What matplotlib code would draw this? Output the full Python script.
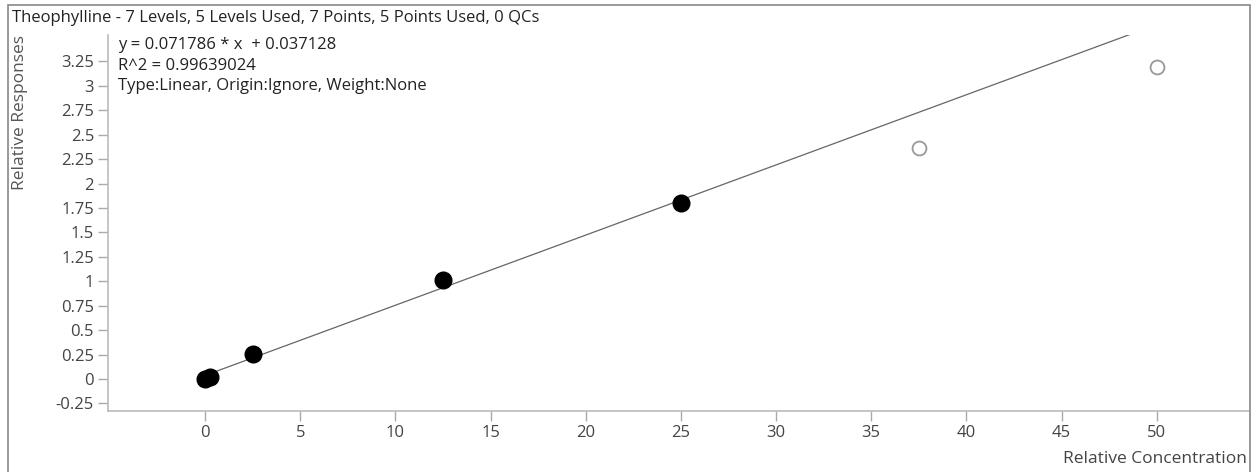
import numpy as np
import matplotlib.pyplot as plt
from matplotlib.patches import Rectangle

plt.rcParams['font.family'] = ['Open Sans', 'DejaVu Sans']

# calibration points: used levels (filled) and excluded levels (open)
used_conc = [0.0, 0.25, 2.5, 12.5, 25.0]
used_resp = [0.0, 0.02, 0.255, 1.01, 1.80]
excl_conc = [37.5, 50.0]
excl_resp = [2.36, 3.19]

slope = 0.071786
intercept = 0.037128
r2 = 0.99639024

y_ticks = [-0.25, 0, 0.25, 0.5, 0.75, 1, 1.25, 1.5, 1.75, 2, 2.25, 2.5, 2.75, 3, 3.25]
y_ticklabels = ['-0.25', '0', '0.25', '0.5', '0.75', '1', '1.25', '1.5', '1.75',
                '2', '2.25', '2.5', '2.75', '3', '3.25']
x_ticks = [0, 5, 10, 15, 20, 25, 30, 35, 40, 45, 50]

W, H = 1253, 472
fig = plt.figure(figsize=(W / 100, H / 100), dpi=100)

# outer frame
fig.patches.append(Rectangle((8 / W, -0.05), 1242 / W, 1.05 - 5 / H,
                             transform=fig.transFigure, fill=False,
                             edgecolor='#888888', linewidth=1.2, clip_on=False))

ax = fig.add_axes([108 / W, 61 / H, 1141 / W, 376 / H])
ax.set_xlim(-5.1, 54.85)
ax.set_ylim(-0.327, 3.52)

for s in ['top', 'right']:
    ax.spines[s].set_visible(False)
for s in ['left', 'bottom']:
    ax.spines[s].set_color('#bbbbbb')
    ax.spines[s].set_linewidth(1.2)

ax.set_xticks(x_ticks)
ax.set_xticklabels([str(t) for t in x_ticks])
ax.set_yticks(y_ticks)
ax.set_yticklabels(y_ticklabels)
ax.tick_params(axis='both', colors='#aaaaaa', labelcolor='#444444',
               labelsize=12, length=7, width=1)
ax.tick_params(axis='x', pad=3)
ax.tick_params(axis='y', pad=3)

# regression line
xs = np.array([0.0, 55.0])
ax.plot(xs, slope * xs + intercept, color='#666666', linewidth=0.9, zorder=2)

ax.plot(used_conc, used_resp, 'o', color='black', markersize=12, zorder=3)
ax.plot(excl_conc, excl_resp, 'o', markerfacecolor='white', markeredgecolor='#999999',
        markeredgewidth=1.3, markersize=10, zorder=3)

fig.text(12 / W, 1 - 18 / H,
         'Theophylline - 7 Levels, 5 Levels Used, 7 Points, 5 Points Used, 0 QCs',
         fontsize=12, color='#222222', va='center', ha='left')

eq_lines = [f'y = {slope:.6f} * x  + {intercept:.6f}',
            f'R^2 = {r2:.8f}',
            'Type:Linear, Origin:Ignore, Weight:None']
for i, line in enumerate(eq_lines):
    fig.text(118 / W, 1 - (45 + 20.5 * i) / H, line, fontsize=12,
             color='#222222', va='center', ha='left')

fig.text(20 / W, 1 - 35 / H, 'Relative Responses', rotation=90, fontsize=12.5,
         color='#555555', va='top', ha='center')
fig.text(1247 / W, 1 - 459 / H, 'Relative Concentration', fontsize=12.5,
         color='#444444', va='center', ha='right')

fig.savefig('out.png', dpi=100)
